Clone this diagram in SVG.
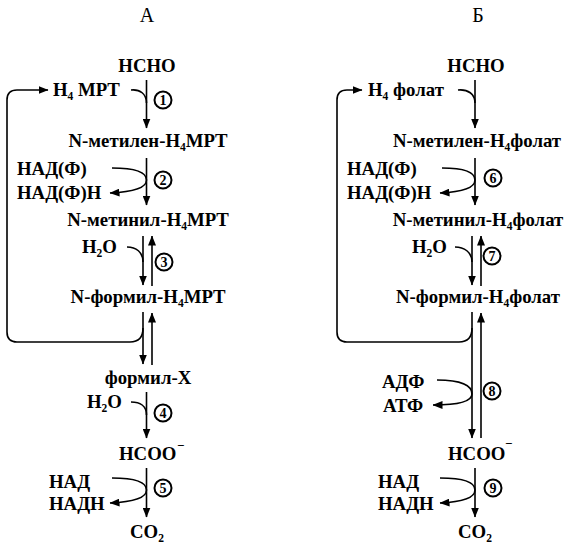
<svg xmlns="http://www.w3.org/2000/svg" width="571" height="553" viewBox="0 0 571 553">
<style>
.t{font-family:"Liberation Serif","Times New Roman",serif;font-weight:bold;font-size:18.8px;fill:#000}
.m{text-anchor:middle}
.h{font-family:"Liberation Serif","Times New Roman",serif;font-size:20px;fill:#000;text-anchor:middle}
.s{font-size:11.5px}
.ln{stroke:#000;stroke-width:1.6;fill:none}
.c{fill:#fff;stroke:#000;stroke-width:2}
.n{font-family:"Liberation Serif","Times New Roman",serif;font-weight:bold;font-size:14px;text-anchor:middle}
</style>
<defs>
<marker id="ah" viewBox="0 0 10 8" refX="9.5" refY="4" markerWidth="10" markerHeight="8" markerUnits="userSpaceOnUse" orient="auto"><path d="M0,0 L10,4 L0,8 z" fill="#000"/></marker>
</defs>
<text class="h" x="147" y="22">А</text>
<text class="h" x="478" y="22">Б</text>

<g id="connectors">
<!-- Panel A -->
<path class="ln" d="M146.5,80 V128" marker-end="url(#ah)"/>
<path class="ln" d="M131,90 C140,89 146.5,94 146.5,103"/>
<path class="ln" d="M7,332 V100 Q7,90 17,90 H48" marker-end="url(#ah)"/>
<path class="ln" d="M146.5,158 V205" marker-end="url(#ah)"/>
<path class="ln" d="M112,168 C135,168 146.5,172 146.5,180 C146.5,188 132,192 110,193" marker-end="url(#ah)"/>
<path class="ln" d="M143,236 V285" marker-end="url(#ah)"/>
<path class="ln" d="M152,286 V236" marker-end="url(#ah)"/>
<path class="ln" d="M127,247 C136,247 143,252 143,262"/>
<path class="ln" d="M143,312 V364" marker-end="url(#ah)"/>
<path class="ln" d="M152,365 V313" marker-end="url(#ah)"/>
<path class="ln" d="M143,328 Q143,342 130,342 H17 Q7,342 7,332"/>
<path class="ln" d="M146.5,392 V438" marker-end="url(#ah)"/>
<path class="ln" d="M131,402 C140,402 146.5,406 146.5,415"/>
<path class="ln" d="M146.5,468 V517" marker-end="url(#ah)"/>
<path class="ln" d="M112,478 C135,478 146.5,482 146.5,490 C146.5,498 132,502 110,503" marker-end="url(#ah)"/>
<!-- Panel B -->
<path class="ln" d="M475,80 V128" marker-end="url(#ah)"/>
<path class="ln" d="M458,90 C468,89 475,94 475,103"/>
<path class="ln" d="M337,332 V100 Q337,90 347,90 H362" marker-end="url(#ah)"/>
<path class="ln" d="M475,158 V205" marker-end="url(#ah)"/>
<path class="ln" d="M442,168 C465,168 475,172 475,180 C475,188 461,192 440,193" marker-end="url(#ah)"/>
<path class="ln" d="M472,236 V285" marker-end="url(#ah)"/>
<path class="ln" d="M481,286 V236" marker-end="url(#ah)"/>
<path class="ln" d="M455,247 C464,247 472,252 472,262"/>
<path class="ln" d="M472,312 V438" marker-end="url(#ah)"/>
<path class="ln" d="M481,438 V313" marker-end="url(#ah)"/>
<path class="ln" d="M472,328 Q472,342 459,342 H347 Q337,342 337,332"/>
<path class="ln" d="M437,380 C462,380 472,386 472,394 C472,402 458,405 433,405" marker-end="url(#ah)"/>
<path class="ln" d="M475,468 V517" marker-end="url(#ah)"/>
<path class="ln" d="M440,478 C465,478 475,482 475,490 C475,498 461,502 440,503" marker-end="url(#ah)"/>
</g>

<g id="A-HCHO"><text class="t m" x="147" y="72">HCHO</text></g>
<g id="A-H4MPT"><text class="t" x="53" y="96">H<tspan class="s" dy="4">4</tspan><tspan dy="-4"> MPT</tspan></text></g>
<g id="A-step1"><circle class="c" cx="163" cy="100" r="8.5"/><text class="n" x="163" y="105">1</text></g>
<g id="A-metilen"><text class="t m" x="148" y="147">N-метилен-H<tspan class="s" dy="4">4</tspan><tspan dy="-4">MPT</tspan></text></g>
<g id="A-NADF"><text class="t" x="17" y="175">НАД(Ф)</text><text class="t" x="17" y="199">НАД(Ф)Н</text></g>
<g id="A-step2"><circle class="c" cx="163" cy="180" r="8.5"/><text class="n" x="163" y="185">2</text></g>
<g id="A-metinil"><text class="t m" x="148" y="226">N-метинил-H<tspan class="s" dy="4">4</tspan><tspan dy="-4">MPT</tspan></text></g>
<g id="A-H2O-3"><text class="t" x="82" y="253">H<tspan class="s" dy="4">2</tspan><tspan dy="-4">O</tspan></text></g>
<g id="A-step3"><circle class="c" cx="164" cy="262" r="8.5"/><text class="n" x="164" y="267">3</text></g>
<g id="A-formil"><text class="t m" x="148" y="303">N-формил-H<tspan class="s" dy="4">4</tspan><tspan dy="-4">MPT</tspan></text></g>
<g id="A-formilX"><text class="t m" x="148" y="384">формил-X</text></g>
<g id="A-H2O-4"><text class="t" x="87" y="408">H<tspan class="s" dy="4">2</tspan><tspan dy="-4">O</tspan></text></g>
<g id="A-step4"><circle class="c" cx="163" cy="413" r="8.5"/><text class="n" x="163" y="418">4</text></g>
<g id="A-HCOO"><text class="t" x="119" y="460">HCOO</text><text class="t" x="177" y="450" style="font-size:13px">−</text></g>
<g id="A-NAD"><text class="t" x="49" y="488">НАД</text><text class="t" x="49" y="510">НАДН</text></g>
<g id="A-step5"><circle class="c" cx="163" cy="488" r="8.5"/><text class="n" x="163" y="493">5</text></g>
<g id="A-CO2"><text class="t" x="130" y="538">CO<tspan class="s" dy="4">2</tspan></text></g>

<g id="B-HCHO"><text class="t m" x="476" y="72">HCHO</text></g>
<g id="B-H4folat"><text class="t" x="368" y="96">H<tspan class="s" dy="4">4</tspan><tspan dy="-4"> фолат</tspan></text></g>
<g id="B-metilen"><text class="t m" x="477" y="147">N-метилен-H<tspan class="s" dy="4">4</tspan><tspan dy="-4">фолат</tspan></text></g>
<g id="B-NADF"><text class="t" x="347" y="175">НАД(Ф)</text><text class="t" x="347" y="199">НАД(Ф)Н</text></g>
<g id="B-step6"><circle class="c" cx="493" cy="178" r="8.5"/><text class="n" x="493" y="183">6</text></g>
<g id="B-metinil"><text class="t m" x="478" y="226">N-метинил-H<tspan class="s" dy="4">4</tspan><tspan dy="-4">фолат</tspan></text></g>
<g id="B-H2O"><text class="t" x="412" y="253">H<tspan class="s" dy="4">2</tspan><tspan dy="-4">O</tspan></text></g>
<g id="B-step7"><circle class="c" cx="492" cy="256" r="8.5"/><text class="n" x="492" y="261">7</text></g>
<g id="B-formil"><text class="t m" x="478" y="303">N-формил-H<tspan class="s" dy="4">4</tspan><tspan dy="-4">фолат</tspan></text></g>
<g id="B-ADF"><text class="t" x="382" y="388">АДФ</text><text class="t" x="383" y="412">АТФ</text></g>
<g id="B-step8"><circle class="c" cx="492" cy="391" r="8.5"/><text class="n" x="492" y="396">8</text></g>
<g id="B-HCOO"><text class="t" x="448" y="460">HCOO</text><text class="t" x="505" y="448" style="font-size:13px">−</text></g>
<g id="B-NAD"><text class="t" x="378" y="488">НАД</text><text class="t" x="378" y="510">НАДН</text></g>
<g id="B-step9"><circle class="c" cx="493" cy="488" r="8.5"/><text class="n" x="493" y="493">9</text></g>
<g id="B-CO2"><text class="t" x="458" y="538">CO<tspan class="s" dy="4">2</tspan></text></g>
</svg>
